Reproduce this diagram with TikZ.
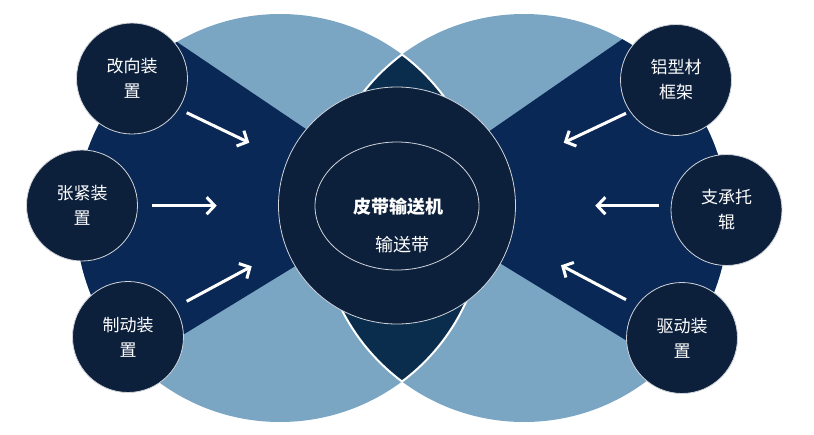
\documentclass[tikz,border=0pt]{standalone}
\usepackage{fontspec}
\newfontfamily\cjk{Noto Sans CJK SC}
\usetikzlibrary{arrows.meta,shapes.geometric}
\definecolor{lightb}{HTML}{7AA6C4}
\definecolor{sect}{HTML}{0A2855}
\definecolor{deep}{HTML}{0C203C}
\definecolor{lensc}{HTML}{0A2D4E}
\definecolor{rim}{HTML}{D0D4DA}
\begin{document}
\begin{tikzpicture}[x=1pt,y=-1pt,
  smallc/.style={circle, fill=deep, draw=rim, line width=0.8pt, minimum size=111pt, inner sep=0pt,
    text=white, align=center, font=\cjk\fontsize{17}{25}\selectfont},
  arr/.style={draw=white, line width=3pt, -{Straight Barb[length=8pt,width=17pt]}},
  lbl/.style={text=white, inner sep=0pt, font=\cjk\fontsize{18}{22}\selectfont}]
\useasboundingbox (0,0) rectangle (814,434);
% big circles
\fill[lightb] (280,218) circle[radius=204pt];
\fill[lightb] (524,218) circle[radius=204pt];
% navy sectors
\begin{scope}
  \clip (280,218) circle[radius=204pt];
  \fill[sect] (400,192.5) -- (50,-43.75) -- (50,416.2) -- (400,202) -- cycle;
\end{scope}
\begin{scope}
  \clip (524,218) circle[radius=204pt];
  \fill[sect] (400,193) -- (750,-49.2) -- (750,416.2) -- (400,202) -- cycle;
\end{scope}
% lens
\begin{scope}
  \clip (280,218) circle[radius=204pt];
  \fill[lensc] (524,218) circle[radius=204pt];
  \draw[white, line width=2pt] (524,218) circle[radius=204pt];
\end{scope}
\begin{scope}
  \clip (524,218) circle[radius=204pt];
  \draw[white, line width=2pt] (280,218) circle[radius=204pt];
\end{scope}
% hub
\node[circle, fill=deep, draw=rim, line width=0.8pt, minimum size=237pt, inner sep=0pt] (hub) at (397,205.5) {};
\node[ellipse, draw=rim, line width=0.8pt, minimum width=164pt, minimum height=128pt, inner sep=0pt] (belt) at (397,206) {};
\node[lbl] (title) at (398,207) {\bfseries 皮带输送机};
\node[lbl] (sub) at (402,245) {输送带};
% small circles
\node[smallc] (c1) at (132,78.5) {改向装\\置};
\node[smallc] (c2) at (82,205.5) {张紧装\\置};
\node[smallc] (c3) at (128,337) {制动装\\置};
\node[smallc] (c4) at (676,80) {铝型材\\框架};
\node[smallc] (c5) at (726.5,210) {支承托\\辊};
\node[smallc] (c6) at (682,338) {驱动装\\置};
% arrows
\coordinate (a1s) at (186.7,112.7); \coordinate (a1e) at (249.3,142.7);
\coordinate (a2s) at (152.3,205.7); \coordinate (a2e) at (216.7,205.7);
\coordinate (a3s) at (186.7,301.3); \coordinate (a3e) at (251.7,266.3);
\coordinate (b1s) at (626,113.3);   \coordinate (b1e) at (563.7,142.7);
\coordinate (b2s) at (659.3,205.7); \coordinate (b2e) at (595.3,205.7);
\coordinate (b3s) at (626,299.7);   \coordinate (b3e) at (561,265.3);
\draw[arr] (a1s) -- (a1e);
\draw[arr] (a2s) -- (a2e);
\draw[arr] (a3s) -- (a3e);
\draw[arr] (b1s) -- (b1e);
\draw[arr] (b2s) -- (b2e);
\draw[arr] (b3s) -- (b3e);
\end{tikzpicture}
\end{document}
